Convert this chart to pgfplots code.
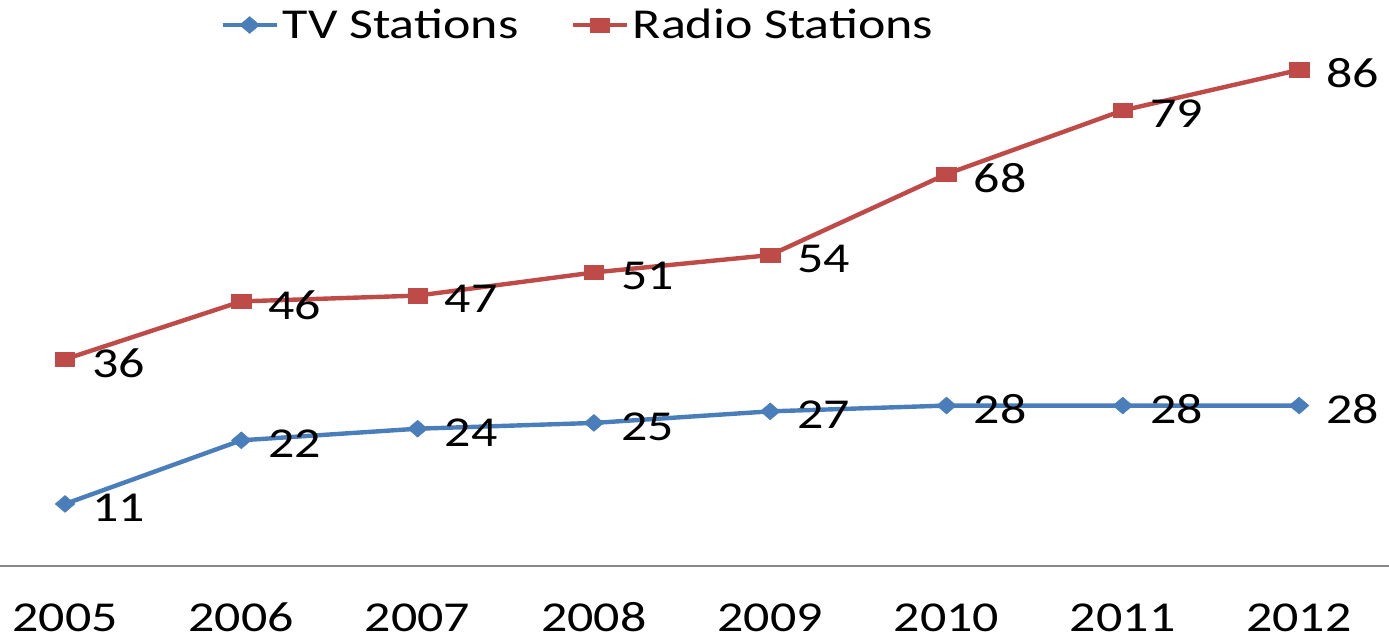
\documentclass[border=0pt]{standalone}
\usepackage{pgfplots}
\pgfplotsset{compat=1.18}
\usepackage{fontspec}
\setmainfont[FakeStretch=1.22]{Carlito}
\definecolor{tvblue}{HTML}{4A7EBB}
\definecolor{radred}{HTML}{BE4B48}
\newcommand{\cfont}{\fontsize{21.3}{25}\selectfont}
\begin{document}
\begin{tikzpicture}
\begin{axis}[
  scale only axis, width=694.5pt, height=283pt,
  xmin=2004.631, xmax=2012.51, ymin=0.28, ymax=98.08,
  axis x line*=bottom, axis y line=none,
  x axis line style={-, draw=black!47, line width=1pt},
  xtick={2005,...,2012},
  xticklabels={2005,2006,2007,2008,2009,2010,2011,2012},
  major tick length=0pt,
  xticklabel style={anchor=base, yshift=-33pt, font=\cfont},
  ytick=\empty,
  clip=false,
  legend style={draw=none, fill=none, at={(0.4168,0.9558)}, anchor=center,
    legend columns=2, font=\cfont,
    /tikz/every even column/.append style={column sep=24pt}},
  legend image code/.code={\draw[mark repeat=2,mark phase=2] plot coordinates {(0pt,0pt) (13.5pt,0pt) (27pt,0pt)};},
  nodes near coords={\pgfmathprintnumber[assume math mode=true]{\pgfplotspointmeta}},
  nodes near coords align={west},
  every node near coord/.append style={xshift=13.5pt, yshift=-1.8pt, inner sep=0pt, text=black, font=\cfont},
]
\addplot[color=tvblue, line width=2.2pt, mark=diamond*, mark size=4.2pt,
  mark options={solid, line width=0.3pt, xscale=1.55}]
  coordinates {(2005,11) (2006,22) (2007,24) (2008,25) (2009,27) (2010,28) (2011,28) (2012,28)};
\addlegendentry{TV Stations}
\addplot[color=radred, line width=2.2pt, mark=square*, mark size=3.6pt,
  mark options={solid, line width=0.3pt, xscale=1.35}]
  coordinates {(2005,36) (2006,46) (2007,47) (2008,51) (2009,54) (2010,68) (2011,79) (2012,86)};
\addlegendentry{Radio Stations}
\end{axis}
\pgfresetboundingbox
\useasboundingbox (0,-38pt) rectangle (694.5pt,283pt);
\end{tikzpicture}
\end{document}
